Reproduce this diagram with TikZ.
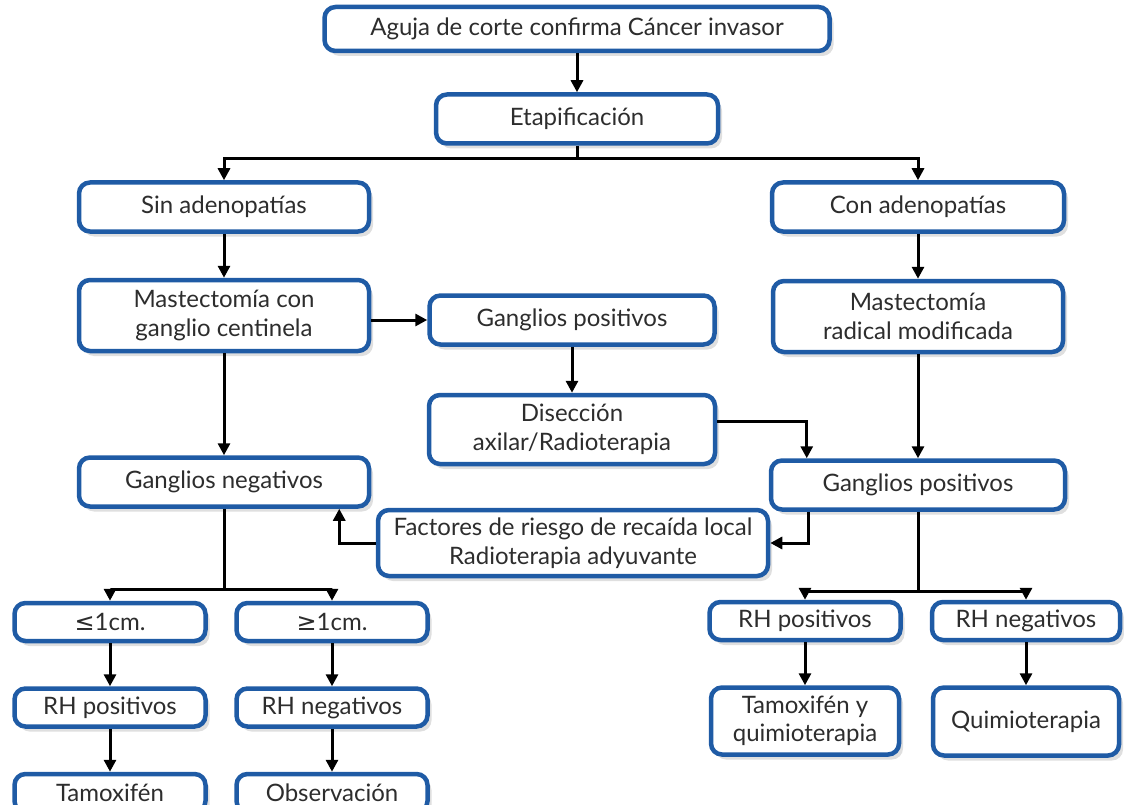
\documentclass[tikz,border=0pt]{standalone}
\usepackage{fontspec}
\setmainfont{Lato}
\newfontfamily\dejavu{DejaVu Sans}
\usetikzlibrary{arrows.meta, positioning, shadows, calc}
\definecolor{boxblue}{RGB}{31, 91, 165}
\definecolor{textgray}{RGB}{45, 45, 45}

\begin{document}
\begin{tikzpicture}[
    x=1pt, y=-1pt,
    node distance=43pt,
    box/.style={rectangle, draw=boxblue, fill=white, line width=4.5pt, rounded corners=11pt, align=center, inner sep=0pt, font=\fontsize{24}{28.5}\selectfont, text=textgray, drop shadow={opacity=0.25, shadow xshift=4pt, shadow yshift=-5pt}},
    topbox/.style={box, minimum width=505pt, minimum height=44pt},
    wide/.style={box, minimum width=290pt, minimum height=49pt},
    widetwo/.style={box, minimum width=290pt, minimum height=71pt},
    small/.style={box, minimum width=191pt, minimum height=38pt},
    smalltwo/.style={box, minimum width=188pt, minimum height=67pt},
    line/.style={draw=black, line width=3pt, -{Triangle[length=12pt,width=12pt]}},
    joint/.style={draw=black, line width=3pt}
]
    \useasboundingbox (0,0) rectangle (1124,805);

    % Nodes
    \node [topbox] (aguja) at (577,29) {Aguja de corte confirma Cáncer invasor};
    \node [wide, minimum width=282pt, below=39pt of aguja] (etap) {Etapificación};

    \node [wide] (sin) at (224,207) {Sin adenopatías};
    \node [widetwo, below=44pt of sin] (mastc) {Mastectomía con\\ganglio centinela};
    \node [wide, below=102pt of mastc] (gneg) {Ganglios negativos};

    \node [wide, minimum width=292pt] (con) at (918,207) {Con adenopatías};
    \node [widetwo, below=45pt of con] (mastr) {Mastectomía\\radical modificada};
    \node [wide, minimum width=294pt, below=104pt of mastr] (gposr) {Ganglios positivos};

    \node [wide, minimum width=285pt] (gposm) at (572,320) {Ganglios positivos};
    \node [widetwo, minimum width=286pt, minimum height=69pt, below=46pt of gposm] (disec) {Disección\\axilar/Radioterapia};
    \node [box, minimum width=390pt, minimum height=66pt] (factores) at (573,543) {Factores de riesgo de recaída local\\Radioterapia adyuvante};

    % Lower left
    \node [small] (menor) at (110,622) {{\dejavu ≤}1cm.};
    \node [small, below=of menor] (rhpizq) {RH positivos};
    \node [small, below=of rhpizq] (tamox) {Tamoxifén};
    \node [small] (mayor) at (332,622) {{\dejavu ≥}1cm.};
    \node [small, below=of mayor] (rhnizq) {RH negativos};
    \node [small, below=of rhnizq] (obs) {Observación};

    % Lower right
    \node [small] (rhpder) at (805,621) {RH positivos};
    \node [smalltwo, below=of rhpder] (tamquim) {Tamoxifén y\\quimioterapia};
    \node [small, minimum width=188pt] (rhnder) at (1026,621) {RH negativos};
    \node [smalltwo, minimum width=186pt, minimum height=68pt, below=of rhnder] (quim) {Quimioterapia};

    % Splits
    \coordinate [below=13pt of etap] (etapsplit);
    \coordinate [below=81pt of gneg] (gnegsplit);
    \coordinate [below=80pt of gposr] (gposrsplit);

    % Paths
    \path [line] (aguja) -- (etap);
    \path [joint] (etap) -- (etapsplit);
    \path [line] (etapsplit) -| (sin);
    \path [line] (etapsplit) -| (con);
    \path [line] (sin) -- (mastc);
    \path [line] (con) -- (mastr);
    \path [line] (mastc) -- (gneg);
    \path [line] (mastr) -- (gposr);
    \path [line] (mastc.east |- gposm.west) -- (gposm.west);
    \path [line] (gposm) -- (disec);
    \path [line] ([yshift=8pt]disec.east) -| ([xshift=38pt]gposr.north west);
    \path [line] ([xshift=40pt]gposr.south west) |- (factores.east);
    \path [line] (factores.west) -| ([xshift=-32pt]gneg.south east);
    \path [joint] (gneg) -- (gnegsplit);
    \path [line] (gnegsplit) -| (menor);
    \path [line] (gnegsplit) -| (mayor);
    \path [joint] (gposr) -- (gposrsplit);
    \path [line] (gposrsplit) -| (rhpder);
    \path [line] (gposrsplit) -| (rhnder);
    \path [line] (menor) -- (rhpizq);
    \path [line] (rhpizq) -- (tamox);
    \path [line] (mayor) -- (rhnizq);
    \path [line] (rhnizq) -- (obs);
    \path [line] (rhpder) -- (tamquim);
    \path [line] (rhnder) -- (quim);

\end{tikzpicture}
\end{document}
